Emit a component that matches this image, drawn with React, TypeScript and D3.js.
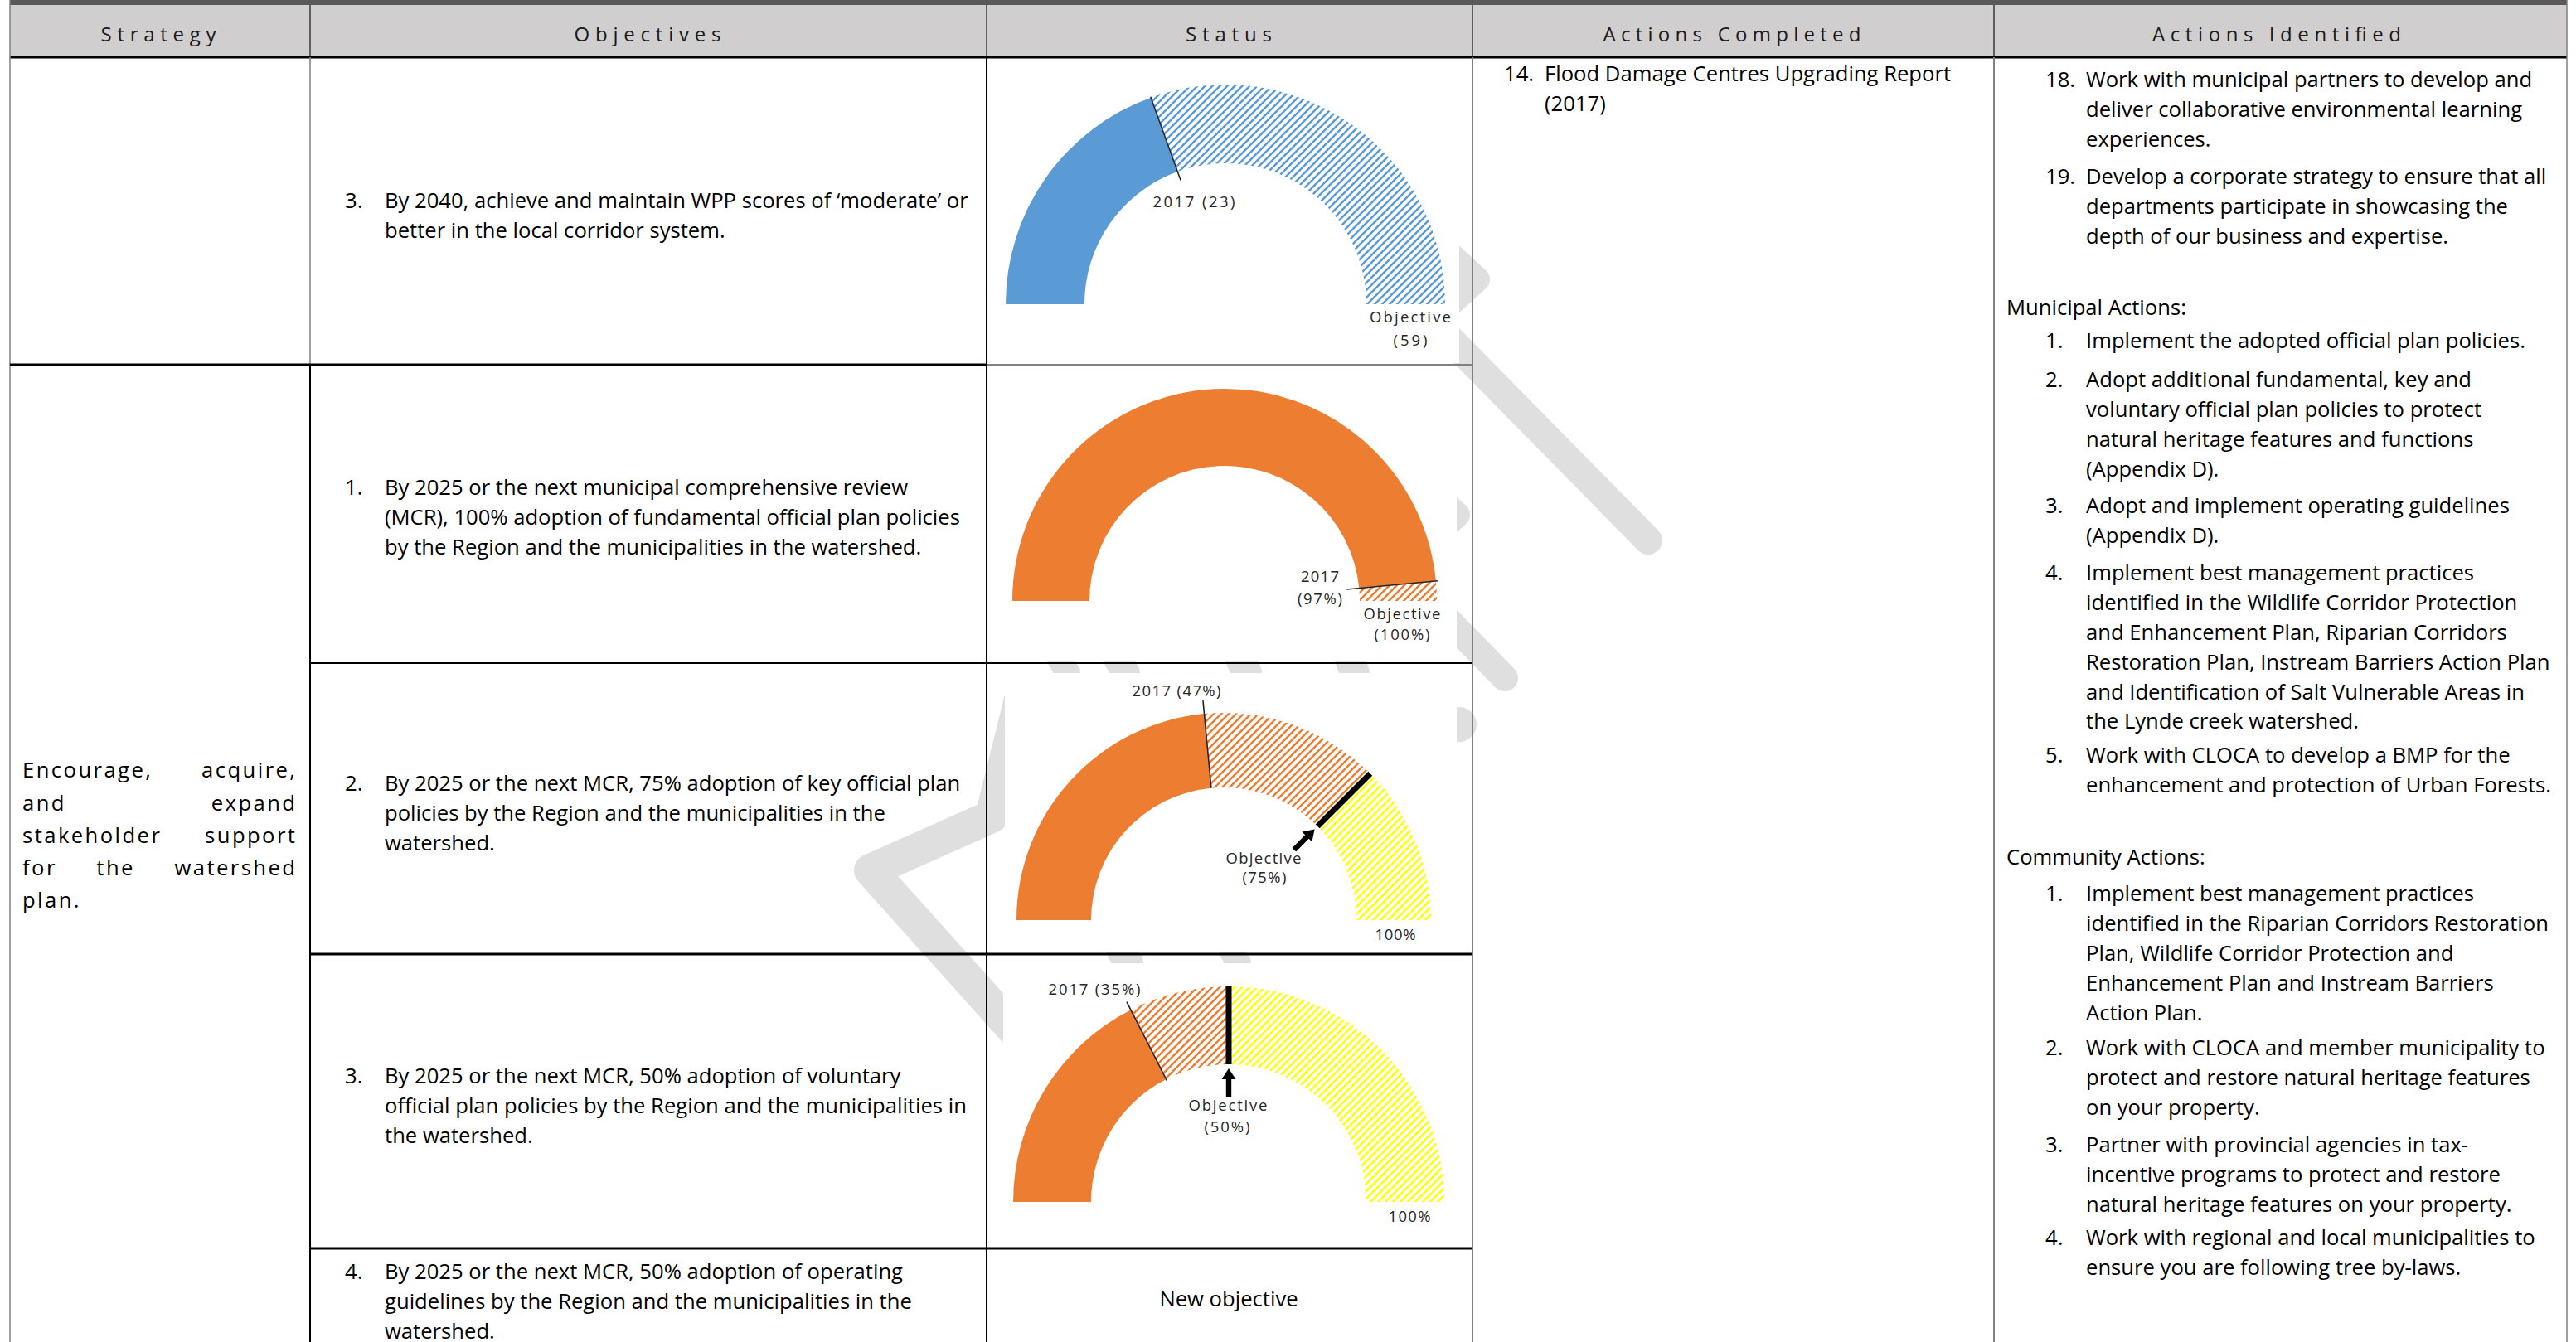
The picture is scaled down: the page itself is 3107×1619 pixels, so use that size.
import React from 'react';
import * as d3 from 'd3';

const W = 3107, H = 1619;
const FONT = '"Open Sans", "Noto Sans", sans-serif';

// ---------------- data ----------------
const headers = ['Strategy', 'Objectives', 'Status', 'Actions Completed', 'Actions Identified'];

const strategyWords = [
  ['Encourage,', 'acquire,'],
  ['and', 'expand'],
  ['stakeholder', 'support'],
  ['for', 'the', 'watershed'],
  ['plan.'],
];

const objectiveNumbers = ['3.', '1.', '2.', '3.', '4.'];
const objectiveLines = [
  ['By 2040, achieve and maintain WPP scores of \u2018moderate\u2019 or', 'better in the local corridor system.'],
  ['By 2025 or the next municipal comprehensive review', '(MCR), 100% adoption of fundamental official plan policies', 'by the Region and the municipalities in the watershed.'],
  ['By 2025 or the next MCR, 75% adoption of key official plan', 'policies by the Region and the municipalities in the', 'watershed.'],
  ['By 2025 or the next MCR, 50% adoption of voluntary', 'official plan policies by the Region and the municipalities in', 'the watershed.'],
  ['By 2025 or the next MCR, 50% adoption of operating', 'guidelines by the Region and the municipalities in the', 'watershed.'],
];
const newObjectiveText = 'New objective';

const completedNumber = '14.';
const completedLines = ['Flood Damage Centres Upgrading Report', '(2017)'];

const identifiedTop = [
  { n: '18.', lines: ['Work with municipal partners to develop and', 'deliver collaborative environmental learning', 'experiences.'] },
  { n: '19.', lines: ['Develop a corporate strategy to ensure that all', 'departments participate in showcasing the', 'depth of our business and expertise.'] },
];
const municipalHeading = 'Municipal Actions:';
const municipalActions = [
  { n: '1.', lines: ['Implement the adopted official plan policies.'] },
  { n: '2.', lines: ['Adopt additional fundamental, key and', 'voluntary official plan policies to protect', 'natural heritage features and functions', '(Appendix D).'] },
  { n: '3.', lines: ['Adopt and implement operating guidelines', '(Appendix D).'] },
  { n: '4.', lines: ['Implement best management practices', 'identified in the Wildlife Corridor Protection', 'and Enhancement Plan, Riparian Corridors', 'Restoration Plan, Instream Barriers Action Plan', 'and Identification of Salt Vulnerable Areas in', 'the Lynde creek watershed.'] },
  { n: '5.', lines: ['Work with CLOCA to develop a BMP for the', 'enhancement and protection of Urban Forests.'] },
];
const communityHeading = 'Community Actions:';
const communityActions = [
  { n: '1.', lines: ['Implement best management practices', 'identified in the Riparian Corridors Restoration', 'Plan, Wildlife Corridor Protection and', 'Enhancement Plan and Instream Barriers', 'Action Plan.'] },
  { n: '2.', lines: ['Work with CLOCA and member municipality to', 'protect and restore natural heritage features', 'on your property.'] },
  { n: '3.', lines: ['Partner with provincial agencies in tax-', 'incentive programs to protect and restore', 'natural heritage features on your property.'] },
  { n: '4.', lines: ['Work with regional and local municipalities to', 'ensure you are following tree by-laws.'] },
];

// gauges
const gaugeCurrent = [23, 97, 47, 35];
const gaugeObjective = [59, 100, 75, 50];
const gaugeMax = [59, 100, 100, 100];
const gaugeCurrentLabels = [['2017 (23)'], ['2017', '(97%)'], ['2017 (47%)'], ['2017 (35%)']];
const gaugeObjectiveLabels = [['Objective', '(59)'], ['Objective', '(100%)'], ['Objective', '(75%)'], ['Objective', '(50%)']];
const gaugeEndLabels = ['', '', '100%', '100%'];

// ---------------- layout ----------------
const COLX = [12, 374, 1190, 1776, 2405, 3096];
const ROWY = [69, 440, 800, 1151, 1506];
const headerLayout = [[191, 139], [781, 177], [1482, 104], [2089, 311], [2746, 300]];
const objStartY = [243, 589, 946, 1299, 1535];
const LINE = 35.8;
const strategyY = [930, 970, 1009, 1048, 1087];
const topStarts = [97, 214];
const municipalHeadY = 372;
const municipalStarts = [412, 459, 611, 692, 912];
const communityHeadY = 1035;
const communityStarts = [1079, 1265, 1382, 1494];

const gaugeGeom = [
  { cx: 1478, cy: 367, R: 265, r: 170, tick: [159, 266], box: [1197, 75, 1760, 438] },
  { cx: 1477, cy: 725, R: 256, r: 163, tick: [148, 258], box: [1197, 470, 1757, 797] },
  { cx: 1476, cy: 1110, R: 250, r: 160, tick: [160, 266], box: [1212, 812, 1757, 1148] },
  { cx: 1482, cy: 1450, R: 260, r: 166, tick: [164, 271], box: [1210, 1162, 1757, 1500] },
];
// label boxes [centerX, centerY, width]
const curLabelPos = [
  [[1440, 243, 99]],
  [[1592, 695, 46], [1592, 722, 54]],
  [[1419, 833, 107]],
  [[1320, 1193, 111]],
];
const objLabelPos = [
  [[1701, 382, 98], [1701, 410, 41]],
  [[1691, 740, 93], [1691, 765, 67]],
  [[1524, 1035, 91], [1525, 1058, 53]],
  [[1481, 1333, 95], [1480, 1359, 55]],
];
const endLabelPos = [null, null, [1683, 1127, 49], [1700, 1467, 51]];
const gaugeColor = ['#5B9BD5', '#ED7D31', '#ED7D31', '#ED7D31'];
const gaugeHatch = ['url(#hatch-blue)', 'url(#hatch-orange)', 'url(#hatch-orange)', 'url(#hatch-orange)'];

const WM = '#dfdfdf';
const watermarkStrokes: { pts: number[][]; w: number }[] = [
  { pts: [[1745, 405], [1988, 652]], w: 34 },
  { pts: [[1700, 262], [1782, 337], [1700, 412]], w: 30 },
  { pts: [[1690, 560], [1758, 621], [1690, 682]], w: 30 },
  { pts: [[1690, 690], [1815, 818]], w: 32 },
  { pts: [[1690, 874], [1760, 874]], w: 42 },
  { pts: [[1232, 840], [1196, 985], [1050, 1050], [1226, 1246]], w: 40 },
  { pts: [[1278, 795], [1288, 812]], w: 30 },
  { pts: [[1348, 795], [1358, 812]], w: 34 },
  { pts: [[1496, 795], [1504, 812]], w: 36 },
  { pts: [[1628, 795], [1634, 812]], w: 36 },
  { pts: [[1352, 1148], [1362, 1162]], w: 34 },
  { pts: [[1486, 1148], [1494, 1162]], w: 30 },
];

// ---------------- helpers ----------------
const measureCtx = (() => {
  const c = document.createElement('canvas');
  return c.getContext('2d') as CanvasRenderingContext2D;
})();
function textWidth(t: string, size: number, ls = 0) {
  measureCtx.font = `${size}px ${FONT}`;
  return measureCtx.measureText(t).width + ls * t.length;
}

function arrowPath(tail: number[], tip: number[], hw = 3.2, hh = 8.5, hl = 13) {
  const dx = tip[0] - tail[0], dy = tip[1] - tail[1];
  const L = Math.hypot(dx, dy);
  const ux = dx / L, uy = dy / L, nx = -uy, ny = ux;
  const bx = tip[0] - ux * hl, by = tip[1] - uy * hl;
  const p = [
    [tail[0] + nx * hw, tail[1] + ny * hw],
    [bx + nx * hw, by + ny * hw],
    [bx + nx * hh, by + ny * hh],
    tip,
    [bx - nx * hh, by - ny * hh],
    [bx - nx * hw, by - ny * hw],
    [tail[0] - nx * hw, tail[1] - ny * hw],
  ];
  return 'M' + p.map((q) => q.join(',')).join('L') + 'Z';
}

function Gauge({ i }: { i: number }) {
  const g = gaugeGeom[i];
  const ang = d3.scaleLinear().domain([0, gaugeMax[i]]).range([-Math.PI / 2, Math.PI / 2]);
  const arc = d3.arc<any>().innerRadius(g.r).outerRadius(g.R);
  const pt = (a: number, rho: number) => [g.cx + rho * Math.sin(a), g.cy - rho * Math.cos(a)];
  const cur = gaugeCurrent[i], obj = gaugeObjective[i], max = gaugeMax[i];
  const segs: { a: number; b: number; fill: string }[] = [
    { a: 0, b: cur, fill: gaugeColor[i] },
    { a: cur, b: obj, fill: gaugeHatch[i] },
  ];
  if (obj < max) segs.push({ a: obj, b: max, fill: 'url(#hatch-yellow)' });
  const t0 = pt(ang(cur), g.tick[0]), t1 = pt(ang(cur), g.tick[1]);
  const labelFs = 18.5;
  const lab = (txt: string, p: number[], key: string) => (
    <text key={key} x={p[0] - p[2] / 2} y={p[1] + labelFs * 0.36} fontSize={labelFs} fontFamily={FONT}
      fill="#262626" textLength={p[2]} lengthAdjust="spacing">{txt}</text>
  );
  return (
    <g>
      <g transform={`translate(${g.cx},${g.cy})`}>
        {segs.map((s, k) => (
          <path key={k} d={arc({ startAngle: ang(s.a), endAngle: ang(s.b) }) as string} fill={s.fill} />
        ))}
      </g>
      <line x1={t0[0]} y1={t0[1]} x2={t1[0]} y2={t1[1]} stroke="#262626" strokeWidth={1.6} />
      {obj < max && (() => {
        const o0 = pt(ang(obj), g.r), o1 = pt(ang(obj), g.R);
        return (
          <g>
            <line x1={o0[0]} y1={o0[1]} x2={o1[0]} y2={o1[1]} stroke="#000" strokeWidth={7} />
            <path d={arrowPath(pt(ang(obj), g.r - 40), pt(ang(obj), g.r - 5))} fill="#000" />
          </g>
        );
      })()}
      {gaugeCurrentLabels[i].map((t, k) => lab(t, curLabelPos[i][k], 'c' + k))}
      {gaugeObjectiveLabels[i].map((t, k) => lab(t, objLabelPos[i][k], 'o' + k))}
      {gaugeEndLabels[i] && endLabelPos[i] && lab(gaugeEndLabels[i], endLabelPos[i] as number[], 'e')}
    </g>
  );
}

export default function App() {
  const body = React.useMemo(() => {
    const a = 557 / textWidth('Restoration Plan, Instream Barriers Action Plan', 100);
    const b = 708 / textWidth('By 2040, achieve and maintain WPP scores of \u2018moderate\u2019 or', 100);
    return (100 * (a + b)) / 2;
  }, []);
  const base = (c: number) => c + 0.33 * body;
  const T = (x: number, c: number, s: string, key: string, anchor: any = 'start') => (
    <text key={key} x={x} y={base(c)} fontSize={body} fontFamily={FONT} fill="#000" textAnchor={anchor}>{s}</text>
  );

  // strategy justified text
  const sLs = Math.max(0, (71 - textWidth('plan.', body)) / 5);
  const sLeft = 27, sRight = 356;
  const strategyEls: any[] = [];
  strategyWords.forEach((words, li) => {
    const widths = words.map((w) => textWidth(w, body, sLs));
    const xs: number[] = [];
    if (li < strategyWords.length - 1 && words.length > 1) {
      const total = widths.reduce((p, q) => p + q, 0);
      const gap = (sRight + sLs - sLeft - total) / (words.length - 1);
      let x = sLeft;
      words.forEach((_, k) => { xs.push(x); x += widths[k] + gap; });
    } else {
      let x = sLeft;
      const sp = textWidth(' ', body, sLs);
      words.forEach((_, k) => { xs.push(x); x += widths[k] + sp; });
    }
    words.forEach((w, k) => {
      strategyEls.push(
        <text key={`s${li}-${k}`} x={xs[k]} y={base(strategyY[li])} fontSize={body} fontFamily={FONT}
          letterSpacing={sLs} fill="#000">{w}</text>
      );
    });
  });

  const listBlock = (items: { n: string; lines: string[] }[], starts: number[], nx: number, tx: number, pre: string) =>
    items.flatMap((it, k) => [
      T(nx, starts[k], it.n, `${pre}n${k}`),
      ...it.lines.map((ln, j) => T(tx, starts[k] + j * LINE, ln, `${pre}l${k}-${j}`)),
    ]);

  const gray = '#808080';
  return (
    <svg width={W} height={H} style={{ position: 'absolute', left: 0, top: 0, display: 'block' }}
      xmlns="http://www.w3.org/2000/svg">
      <defs>
        {[['hatch-blue', '#5B9BD5'], ['hatch-orange', '#ED7D31'], ['hatch-yellow', '#FFFF00']].map(([id, c]) => (
          <pattern key={id} id={id} patternUnits="userSpaceOnUse" width={9} height={9}>
            <path d="M-2,2 L2,-2 M0,9 L9,0 M7,11 L11,7" stroke={c} strokeWidth={2.5} />
          </pattern>
        ))}
      </defs>
      <rect x={0} y={0} width={W} height={H} fill="#fff" />
      {/* header */}
      <rect x={COLX[0]} y={0} width={COLX[5] - COLX[0]} height={6} fill="#595959" />
      <rect x={COLX[0]} y={6} width={COLX[5] - COLX[0]} height={ROWY[0] - 6} fill="#D0CECE" />
      {headers.map((h, k) => (
        <text key={h} x={headerLayout[k][0] - headerLayout[k][1] / 2} y={41 + 24 * 0.36} fontSize={24}
          fontFamily={FONT} fill="#1a1a1a" textLength={headerLayout[k][1]} lengthAdjust="spacing">{h}</text>
      ))}
      {/* watermark */}
      <g fill="none" stroke={WM} strokeLinecap="round" strokeLinejoin="round">
        {watermarkStrokes.map((s, k) => (
          <path key={k} d={d3.line()(s.pts as [number, number][]) as string} strokeWidth={s.w} />
        ))}
      </g>
      {/* chart image backgrounds */}
      {gaugeGeom.map((g, k) => (
        <rect key={k} x={g.box[0]} y={g.box[1]} width={g.box[2] - g.box[0]} height={g.box[3] - g.box[1]} fill="#fff" />
      ))}
      {gaugeGeom.map((_, k) => <Gauge key={k} i={k} />)}
      {/* texts */}
      {strategyEls}
      {objectiveLines.flatMap((lines, k) => [
        T(416, objStartY[k], objectiveNumbers[k], `on${k}`),
        ...lines.map((ln, j) => T(464, objStartY[k] + j * LINE, ln, `ol${k}-${j}`)),
      ])}
      {T(1482, 1568, newObjectiveText, 'newobj', 'middle')}
      {T(1814, 90, completedNumber, 'cn')}
      {completedLines.map((ln, j) => T(1863, 90 + j * LINE, ln, `cl${j}`))}
      {listBlock(identifiedTop, topStarts, 2467, 2516, 'it')}
      {T(2420, municipalHeadY, municipalHeading, 'mh')}
      {listBlock(municipalActions, municipalStarts, 2467, 2516, 'ma')}
      {T(2420, communityHeadY, communityHeading, 'ch')}
      {listBlock(communityActions, communityStarts, 2467, 2516, 'ca')}
      {/* grid lines */}
      {[1, 2, 3, 4].map((k) => (
        <line key={'hv' + k} x1={COLX[k]} y1={6} x2={COLX[k]} y2={ROWY[0]} stroke="#3a3a3a" strokeWidth={1.5} />
      ))}
      <line x1={COLX[0]} y1={ROWY[0]} x2={COLX[5]} y2={ROWY[0]} stroke="#000" strokeWidth={3} />
      <line x1={COLX[0]} y1={0} x2={COLX[0]} y2={H} stroke={gray} strokeWidth={1.5} />
      <line x1={COLX[5]} y1={0} x2={COLX[5]} y2={H} stroke={gray} strokeWidth={1.5} />
      <line x1={COLX[1]} y1={ROWY[0]} x2={COLX[1]} y2={ROWY[1]} stroke={gray} strokeWidth={1.5} />
      <line x1={COLX[1]} y1={ROWY[1]} x2={COLX[1]} y2={H} stroke="#000" strokeWidth={2} />
      <line x1={COLX[2]} y1={ROWY[0]} x2={COLX[2]} y2={H} stroke="#000" strokeWidth={2} />
      <line x1={COLX[3]} y1={ROWY[0]} x2={COLX[3]} y2={H} stroke={gray} strokeWidth={2} />
      <line x1={COLX[4]} y1={ROWY[0]} x2={COLX[4]} y2={H} stroke={gray} strokeWidth={2} />
      <line x1={COLX[0]} y1={ROWY[1]} x2={COLX[2]} y2={ROWY[1]} stroke="#000" strokeWidth={3} />
      <line x1={COLX[2]} y1={ROWY[1]} x2={COLX[3]} y2={ROWY[1]} stroke={gray} strokeWidth={2} />
      <line x1={COLX[1]} y1={ROWY[2]} x2={COLX[3]} y2={ROWY[2]} stroke="#000" strokeWidth={2} />
      <line x1={COLX[1]} y1={ROWY[3]} x2={COLX[3]} y2={ROWY[3]} stroke="#000" strokeWidth={3} />
      <line x1={COLX[1]} y1={ROWY[4]} x2={COLX[3]} y2={ROWY[4]} stroke="#000" strokeWidth={3} />
    </svg>
  );
}
